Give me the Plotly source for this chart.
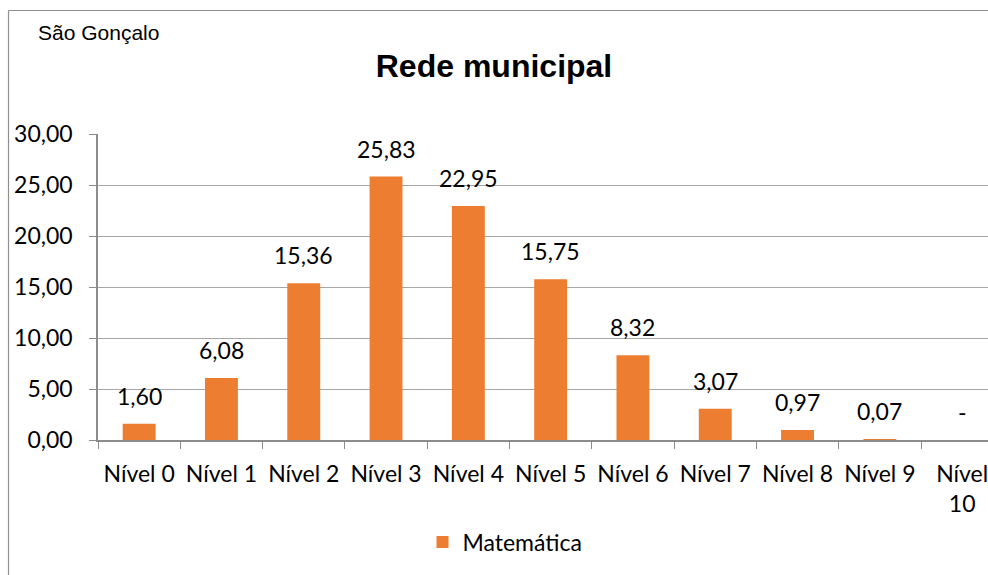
import plotly.graph_objects as go

categories = ["Nível 0", "Nível 1", "Nível 2", "Nível 3", "Nível 4", "Nível 5",
              "Nível 6", "Nível 7", "Nível 8", "Nível 9", "Nível 10"]
values = [1.60, 6.08, 15.36, 25.83, 22.95, 15.75, 8.32, 3.07, 0.97, 0.07, 0.0]
tick_labels = ["Nível 0", "Nível 1", "Nível 2", "Nível 3", "Nível 4", "Nível 5",
               "Nível 6", "Nível 7", "Nível 8", "Nível 9", "Nível<br>10"]
y_ticks = [0, 5, 10, 15, 20, 25, 30]
series_name = "Matemática"
title_text = "Rede municipal"
subtitle_text = "São Gonçalo"

ORANGE = "#ED7D31"
FONT = "Lato"
W, H = 988, 575
L, R, T, B = 98, 0, 134, 135
cat_px = 82.3
plot_w = W - L - R
plot_h = H - T - B


def fmt(v):
    if v == 0:
        return "-"
    return f"{v:.2f}".replace(".", ",")


fig = go.Figure()
fig.add_trace(go.Bar(
    x=categories, y=values, name=series_name,
    marker=dict(color=ORANGE, line=dict(width=0)),
    showlegend=True,
))

for c, v in zip(categories, values):
    fig.add_annotation(
        x=c, y=v, xref="x", yref="y", text=fmt(v), showarrow=False,
        yanchor="bottom", xanchor="center", yshift=12,
        font=dict(family=FONT, size=23, color="#000000"),
    )


def px_x(p):
    return (p - L) / plot_w


def px_y(p):
    return (H - B - p) / plot_h


frame_color = "#8f8f8f"
fig.add_shape(type="line", xref="paper", yref="paper",
              x0=px_x(8.5), x1=px_x(W + 5), y0=px_y(10.5), y1=px_y(10.5),
              line=dict(color=frame_color, width=1.2))
fig.add_shape(type="line", xref="paper", yref="paper",
              x0=px_x(8.5), x1=px_x(8.5), y0=px_y(10.5), y1=px_y(H + 5),
              line=dict(color=frame_color, width=1.2))

fig.add_annotation(
    xref="paper", yref="paper", x=px_x(36), y=px_y(32), text=subtitle_text,
    showarrow=False, xanchor="left", yanchor="middle",
    font=dict(family="Liberation Sans", size=21, color="#000000"),
)

fig.update_layout(
    width=W, height=H,
    margin=dict(l=L, r=R, t=T, b=B, pad=0),
    paper_bgcolor="white", plot_bgcolor="white",
    separators=",.",
    bargap=0.6,
    title=dict(text="<b>" + title_text + "</b>", x=0.5, xanchor="center",
               xref="container", yref="container", y=1 - 66 / H, yanchor="middle",
               font=dict(family="Liberation Sans", size=32, color="#000000")),
    legend=dict(orientation="h", x=px_x(505), y=px_y(542), xanchor="center",
                yanchor="middle", font=dict(family=FONT, size=23, color="#000000"),
                bgcolor="rgba(0,0,0,0)"),
    xaxis=dict(
        type="category", range=[-0.5, -0.5 + plot_w / cat_px],
        tickmode="array", tickvals=categories, ticktext=tick_labels,
        tickson="boundaries", ticks="outside", ticklen=7, tickcolor="#8c8c8c",
        tickwidth=1, showline=True, linecolor="#8c8c8c", linewidth=1.5,
        showgrid=False, tickangle=0,
        tickfont=dict(family=FONT, size=23, color="#000000"),
        ticklabelstandoff=13,
    ),
    yaxis=dict(
        range=[0, 30], tickmode="array", tickvals=y_ticks, tickformat=".2f",
        ticks="outside", ticklen=7, tickcolor="#8c8c8c", tickwidth=1,
        showline=True, linecolor="#8c8c8c", linewidth=1.5,
        showgrid=True, gridcolor="#a6a6a6", gridwidth=1, zeroline=False,
        tickfont=dict(family=FONT, size=23, color="#000000"),
        ticklabelstandoff=12,
    ),
)

fig.write_html(
    "out.html",
    config={"displayModeBar": False},
    post_script="document.body.style.margin='0';document.body.style.overflow='hidden';",
)
